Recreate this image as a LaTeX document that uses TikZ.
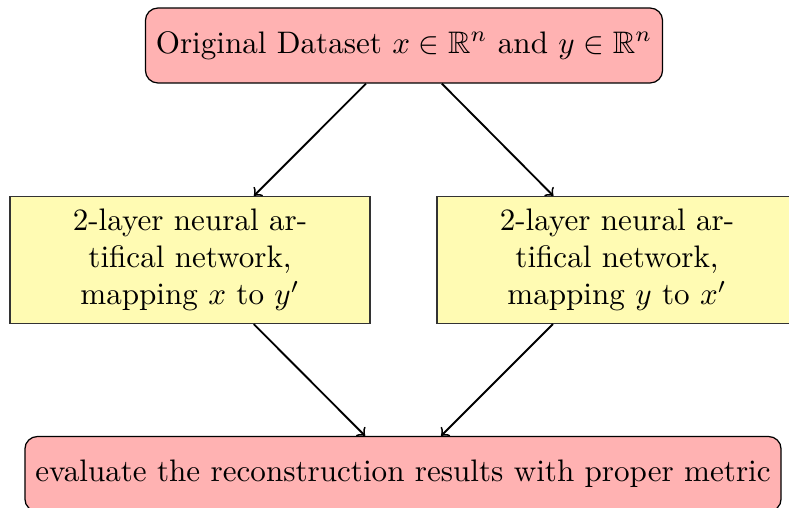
\documentclass[tikz,border=0pt]{standalone}
\usepackage{amssymb}
\begin{document}
\begin{tikzpicture}[x=0.3215pt,y=-0.3215pt,
  pinkbox/.style={draw=black,fill=red!30,rounded corners=4pt,minimum height=24.1pt,inner sep=3.33pt},
  yellowbox/.style={draw=black!80,fill=yellow!30,minimum width=115.7pt,minimum height=40.8pt,align=center},
  conn/.style={->,semithick}]
\useasboundingbox (0,0) rectangle (789,508);
\node[pinkbox] (top) at (404,45.5) {Original Dataset $x \in \mathbb{R}^n$ and $y \in \mathbb{R}^n$};
\node[yellowbox] (left) at (190,260) {2-layer neural ar-\\tifical network,\\mapping $x$ to $y'$};
\node[yellowbox] (right) at (617,260) {2-layer neural ar-\\tifical network,\\mapping $y$ to $x'$};
\node[pinkbox] (bottom) at (403,474) {evaluate the reconstruction results with proper metric};
\draw[conn] (top) -- (left);
\draw[conn] (top) -- (right);
\draw[conn] (left) -- (bottom);
\draw[conn] (right) -- (bottom);
\end{tikzpicture}
\end{document}
